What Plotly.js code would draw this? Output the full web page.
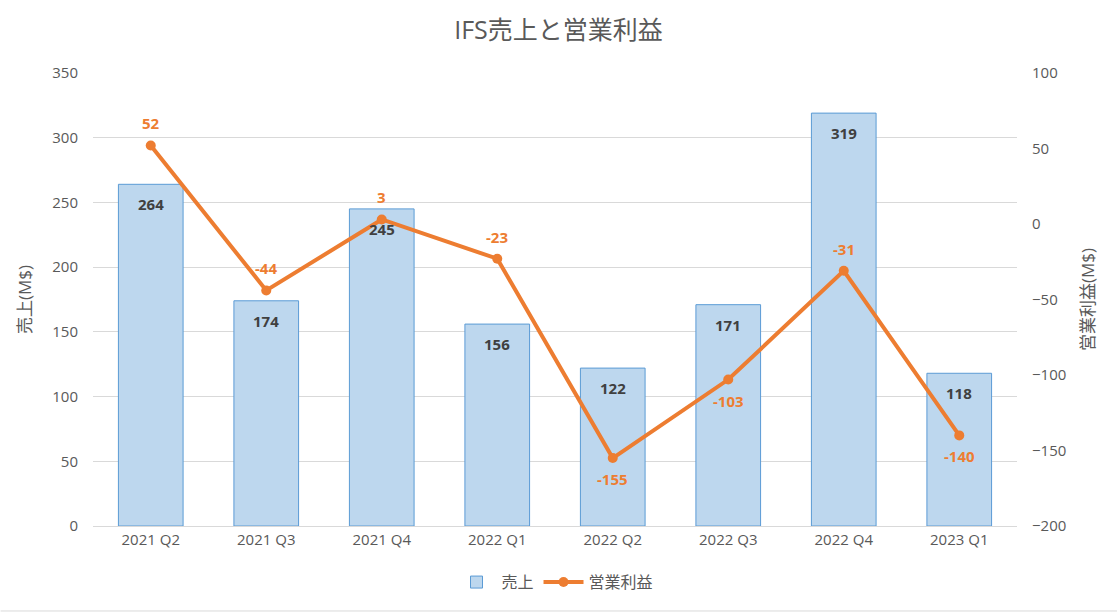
<!DOCTYPE html>
<html>
<head>
<meta charset="utf-8">
<script src="https://cdn.plot.ly/plotly-3.0.1.min.js"></script>
<style>
  body { margin: 0; background: #fff; }
  #chart { width: 1117px; height: 613px; }
</style>
</head>
<body>
<div id="chart"></div>
<script>
const quarters = ["2021 Q2", "2021 Q3", "2021 Q4", "2022 Q1", "2022 Q2", "2022 Q3", "2022 Q4", "2023 Q1"];
const sales = [264, 174, 245, 156, 122, 171, 319, 118];
const profit = [52, -44, 3, -23, -155, -103, -31, -140];
// which side of the marker each profit label sits on
const profitLabelAbove = [true, true, true, true, false, false, true, false];

const fontFamily = '"Open Sans", "Noto Sans CJK JP", sans-serif';
const gray = '#595959';

const bars = {
  x: quarters,
  y: sales,
  name: '売上',
  type: 'bar',
  marker: { color: '#BDD7EE', line: { color: '#5B9BD5', width: 1 } },
  hoverinfo: 'x+y'
};

const line = {
  x: quarters,
  y: profit,
  name: '営業利益',
  type: 'scatter',
  mode: 'lines+markers',
  yaxis: 'y2',
  line: { color: '#ED7D31', width: 4 },
  marker: { color: '#ED7D31', size: 10 },
  cliponaxis: false
};

const annotations = [];
quarters.forEach(function (q, i) {
  annotations.push({
    x: q, y: sales[i], xref: 'x', yref: 'y',
    text: String(sales[i]), showarrow: false, yshift: -20,
    font: { family: fontFamily, size: 15, color: '#404040', weight: 'bold' }
  });
  annotations.push({
    x: q, y: profit[i], xref: 'x', yref: 'y2',
    text: String(profit[i]), showarrow: false,
    yshift: profitLabelAbove[i] ? 22 : -21,
    font: { family: fontFamily, size: 15, color: '#ED7D31', weight: 'bold' }
  });
});

const layout = {
  width: 1117,
  height: 613,
  margin: { l: 93, r: 100, t: 73, b: 87 },
  paper_bgcolor: '#fff',
  plot_bgcolor: '#fff',
  font: { family: fontFamily, color: gray, size: 15 },
  title: {
    text: 'IFS売上と営業利益',
    font: { family: fontFamily, size: 25, color: gray },
    x: 0.5, xanchor: 'center', y: 0.95, yanchor: 'middle'
  },
  bargap: 0.44,
  showlegend: true,
  legend: {
    orientation: 'h',
    x: 0.5, xanchor: 'center',
    y: -0.124, yanchor: 'middle',
    font: { size: 16, color: gray },
    itemwidth: 40
  },
  xaxis: {
    type: 'category',
    showgrid: false,
    showline: true,
    linecolor: '#D9D9D9',
    linewidth: 1,
    ticks: '',
    tickfont: { size: 15, color: gray },
    fixedrange: true
  },
  yaxis: {
    title: { text: '売上(M$)', font: { size: 17, color: gray }, standoff: 16 },
    range: [0, 350],
    dtick: 50,
    showgrid: true,
    gridcolor: '#D9D9D9',
    zeroline: false,
    ticks: '',
    ticklabelstandoff: 14,
    tickfont: { size: 15, color: gray },
    fixedrange: true
  },
  yaxis2: {
    title: { text: '営業利益(M$)', font: { size: 17, color: gray }, standoff: 16 },
    overlaying: 'y',
    side: 'right',
    range: [-200, 100],
    dtick: 50,
    showgrid: false,
    zeroline: false,
    ticks: '',
    ticklabelstandoff: 14,
    tickfont: { size: 15, color: gray },
    fixedrange: true
  },
  annotations: annotations,
  shapes: [{
    type: 'line', xref: 'paper', yref: 'paper',
    x0: -0.1, x1: 1.11, y0: -0.1876, y1: -0.1876,
    line: { color: '#D9D9D9', width: 1 }
  }]
};

Plotly.newPlot('chart', [bars, line], layout, { displayModeBar: false, staticPlot: true });
</script>
</body>
</html>
